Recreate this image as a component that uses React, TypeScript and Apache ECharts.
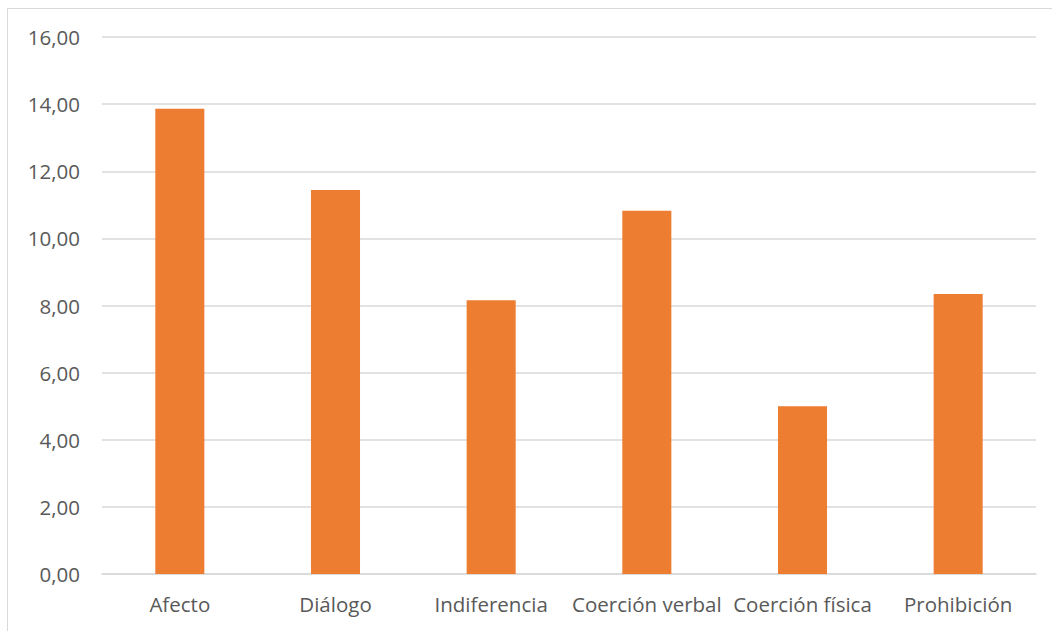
import React, { useEffect, useRef } from "react";
import * as echarts from "echarts";

const categories = ["Afecto", "Diálogo", "Indiferencia", "Coerción verbal", "Coerción física", "Prohibición"];
const values = [13.86, 11.44, 8.16, 10.82, 5.0, 8.34];
const yMin = 0;
const yMax = 16;
const yStep = 2;

export default function App() {
  const ref = useRef<HTMLDivElement>(null);
  useEffect(() => {
    if (!ref.current) return;
    const chart = echarts.init(ref.current, null, { renderer: "svg" });
    chart.setOption({
      animation: false,
      backgroundColor: "#ffffff",
      grid: { left: 94, right: 20, top: 28, bottom: 75 },
      xAxis: {
        type: "category",
        data: categories,
        axisLine: { show: true, lineStyle: { color: "#d9d9d9", width: 1.5 } },
        axisTick: { show: false },
        axisLabel: { color: "#595959", fontSize: 20.5, fontFamily: "Open Sans", margin: 19, interval: 0 },
      },
      yAxis: {
        type: "value",
        min: yMin,
        max: yMax,
        interval: yStep,
        axisLine: { show: false },
        axisTick: { show: false },
        splitLine: { lineStyle: { color: "#d9d9d9", width: 1.5 } },
        axisLabel: {
          color: "#595959",
          fontSize: 20.5,
          fontFamily: "Open Sans",
          margin: 22,
          formatter: (v: number) => v.toFixed(2).replace(".", ","),
        },
      },
      series: [
        {
          type: "bar",
          data: values,
          barWidth: "31.5%",
          itemStyle: { color: "#ed7d31" },
        },
      ],
    });
    return () => chart.dispose();
  }, []);
  return (
    <div
      style={{
        position: "fixed",
        left: 7,
        top: 8,
        width: 1050,
        height: 642,
        boxSizing: "border-box",
        border: "1px solid #d9d9d9",
        background: "#fff",
      }}
    >
      <div ref={ref} style={{ width: 1048, height: 640 }} />
    </div>
  );
}
